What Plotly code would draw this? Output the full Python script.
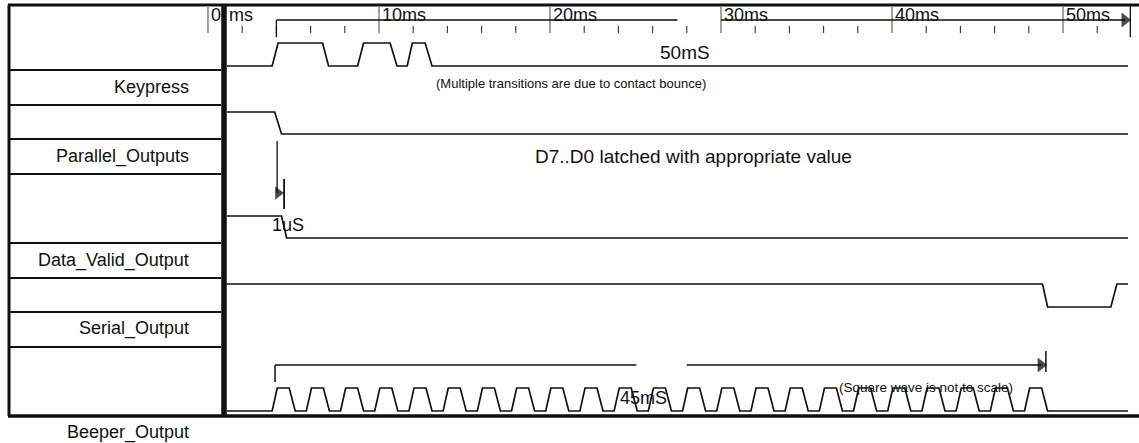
import plotly.graph_objects as go

# ---------------- data (times in ms, logic levels 0/1) ----------------
signal_names = ["Keypress", "Parallel_Outputs", "Data_Valid_Output", "Serial_Output", "Beeper_Output"]

keypress_t = [1.1, 3.75, 4.1, 6.7, 7.05, 8.75, 9.1, 10.65, 11.05, 11.65, 11.95, 12.7, 13.1, 53.8]
keypress_v = [0, 0, 1, 1, 0, 0, 1, 1, 0, 0, 1, 1, 0, 0]

parallel_t = [1.1, 3.9, 4.3, 53.8]
parallel_v = [1, 1, 0, 0]

valid_t = [1.1, 4.3, 4.6, 53.8]
valid_v = [1, 1, 0, 0]

serial_t = [1.1, 48.8, 49.1, 52.8, 53.15, 53.8]
serial_v = [1, 1, 0, 0, 1, 1]

beeper_span_ms = [1.1, 53.8]
beeper_rise_ms = [3.75, 5.75, 7.75, 9.75, 11.75, 13.75, 15.75, 17.75, 19.75, 21.75, 23.75, 25.75,
                  27.75, 29.75, 31.75, 33.75, 35.75, 37.75, 39.75, 41.75, 43.75, 45.75, 47.75]
beeper_pulse_ms = [0.3, 0.7, 0.35]  # rise, high, fall durations

major_ticks_ms = [0, 10, 20, 30, 40, 50]
major_tick_labels = ["0", "10ms", "20ms", "30ms", "40ms", "50ms"]
minor_ticks_ms = [2, 4, 6, 8, 12, 14, 16, 18, 22, 24, 26, 28, 32, 34, 36, 38, 42, 44, 46, 48, 52]

keypress_window_ms = [4.0, 27.45, 30.0, 53.85]   # ruler line with a gap, ends in an arrow
beeper_window_ms = [3.92, 25.05, 28.0, 49.0]     # 45 mS bracket with a gap
setup_marker_ms = [4.1, 4.45]                   # 1 uS marker

# ---------------- layout geometry (pixels) ----------------
W, H = 1139, 443
PX_PER_MS = 17.1
X0_PX = 208
FONT = "Liberation Sans, Arial, sans-serif"
INK = "#111111"

row_levels = {  # (high y, low y)
    "Keypress": (43, 66),
    "Parallel_Outputs": (112, 134),
    "Data_Valid_Output": (216, 238),
    "Serial_Output": (284, 307),
    "Beeper_Output": (388, 411),
}
label_y = [87, 156, 260, 328, 432]
row_lines_y = [70, 105, 139, 174, 243, 278, 312, 347]
TOP_Y, BOT_Y = 5, 416
TABLE_L, TABLE_R = 8, 221


def ms_per_px(px):
    return px / PX_PER_MS


def to_y(name, levels):
    hi, lo = row_levels[name]
    return [lo - v * (lo - hi) for v in levels]


def beeper_wave():
    t = [beeper_span_ms[0]]
    v = [0]
    r, h, f = beeper_pulse_ms
    for s in beeper_rise_ms:
        t += [s, s + r, s + r + h, s + r + h + f]
        v += [0, 1, 1, 0]
    t.append(beeper_span_ms[1])
    v.append(0)
    return t, v


fig = go.Figure()

line_style = dict(color=INK, width=1.7)

waves = [
    ("Keypress", keypress_t, keypress_v),
    ("Parallel_Outputs", parallel_t, parallel_v),
    ("Data_Valid_Output", valid_t, valid_v),
    ("Serial_Output", serial_t, serial_v),
]
bt, bv = beeper_wave()
waves.append(("Beeper_Output", bt, bv))

for name, t, v in waves:
    fig.add_trace(go.Scatter(x=t, y=to_y(name, v), mode="lines", line=line_style,
                             hoverinfo="skip", showlegend=False))


# ---------------- ruler ----------------
def seg_trace(xs, y0s, y1s, width, color=INK):
    X, Y = [], []
    for x, a, b in zip(xs, y0s, y1s):
        X += [x, x, None]
        Y += [a, b, None]
    return go.Scatter(x=X, y=Y, mode="lines", line=dict(color=color, width=width),
                      hoverinfo="skip", showlegend=False)


n_major = len(major_ticks_ms)
fig.add_trace(seg_trace(major_ticks_ms, [7] * n_major, [33] * n_major, 1.1, "#555555"))
n_minor = len(minor_ticks_ms)
fig.add_trace(seg_trace(minor_ticks_ms, [26] * n_minor, [33] * n_minor, 1.1, "#333333"))
# bracket start tick and end bar
fig.add_trace(seg_trace([keypress_window_ms[0]], [20], [37], 1.3))
fig.add_trace(seg_trace([keypress_window_ms[3] + ms_per_px(1.5)], [5], [37], 1.3))

k0, k1, k2, k3 = keypress_window_ms
fig.add_trace(go.Scatter(x=[k0, k1, None, k2, k3 - ms_per_px(4)], y=[20, 20, None, 20, 20],
                         mode="lines", line=dict(color=INK, width=1.5),
                         hoverinfo="skip", showlegend=False))

# ---------------- 45 mS bracket ----------------
b0, b1, b2, b3 = beeper_window_ms
fig.add_trace(go.Scatter(x=[b0, b1, None, b2, b3 - ms_per_px(5)], y=[365, 365, None, 365, 365],
                         mode="lines", line=dict(color=INK, width=1.5),
                         hoverinfo="skip", showlegend=False))
fig.add_trace(seg_trace([b0], [365], [382], 1.5))
fig.add_trace(seg_trace([b3], [351], [372], 1.5))

# ---------------- 1 uS marker ----------------
s0, s1 = setup_marker_ms
fig.add_trace(seg_trace([s0 - ms_per_px(1)], [141], [193], 1.3))
fig.add_trace(seg_trace([s1], [179], [209], 1.8))

# arrow heads
fig.add_trace(go.Scatter(
    x=[k3 - ms_per_px(4), b3 - ms_per_px(5), s0],
    y=[20, 365, 193],
    mode="markers",
    marker=dict(symbol="triangle-right", size=[12, 12, 11], color="#000000",
                line=dict(width=0.5, color="#000000")),
    hoverinfo="skip", showlegend=False))


# ---------------- table / frame shapes ----------------
def hline(x0, x1, y, w):
    fig.add_shape(type="line", xref="paper", yref="y", x0=x0 / W, x1=x1 / W, y0=y, y1=y,
                  line=dict(color=INK, width=w), layer="above")


def vline(x, y0, y1, w):
    fig.add_shape(type="line", xref="paper", yref="y", x0=x / W, x1=x / W, y0=y0, y1=y1,
                  line=dict(color=INK, width=w), layer="above")


hline(TABLE_L, W, TOP_Y, 3)
hline(TABLE_L, W, BOT_Y, 3.5)
vline(TABLE_L + 1, TOP_Y, BOT_Y, 3)
vline(224, TOP_Y, BOT_Y, 5.5)
for y in row_lines_y:
    hline(TABLE_L, TABLE_R, y, 1.8)

# ---------------- text ----------------
ann = []
for name, y in zip(signal_names, label_y):
    ann.append(dict(text=name, xref="paper", yref="y", x=191 / W, y=y, xanchor="right",
                    yanchor="middle", showarrow=False, font=dict(family=FONT, size=18, color=INK)))

for t, lab in zip(major_ticks_ms, major_tick_labels):
    ann.append(dict(text=lab, xref="x", yref="y", x=t + ms_per_px(1), y=15, xanchor="left",
                    yanchor="middle", showarrow=False, font=dict(family=FONT, size=18, color=INK)))
ann.append(dict(text="ms", xref="x", yref="y", x=ms_per_px(18.5), y=15, xanchor="left",
                yanchor="middle", showarrow=False, font=dict(family=FONT, size=18, color=INK)))

centered = [
    dict(text="50mS", x=27.9, y=52, size=19),
    dict(text="(Multiple transitions are due to contact bounce)", x=21.2, y=83, size=13),
    dict(text="D7..D0 latched with appropriate value", x=28.4, y=156, size=19),
    dict(text="45mS", x=25.45, y=398, size=18),
    dict(text="(Square wave is not to scale)", x=42.0, y=387, size=13.5),
]
for a in centered:
    sz = a.pop("size")
    a.update(xref="x", yref="y", xanchor="center", yanchor="middle", showarrow=False,
             font=dict(family=FONT, size=sz, color=INK))
    ann.append(a)
ann.append(dict(text="1uS", xref="x", yref="y", x=s0 - ms_per_px(8), y=225, xanchor="left",
                yanchor="middle", showarrow=False, font=dict(family=FONT, size=18, color=INK)))

fig.update_layout(
    width=W, height=H,
    margin=dict(l=0, r=0, t=0, b=0),
    paper_bgcolor="white", plot_bgcolor="white",
    xaxis=dict(range=[-X0_PX / PX_PER_MS, (W - X0_PX) / PX_PER_MS], visible=False, fixedrange=True),
    yaxis=dict(range=[H, 0], visible=False, fixedrange=True),
    annotations=ann,
    showlegend=False,
)

fig.write_html("out.html",
               config={"displayModeBar": False},
               post_script="document.body.style.margin='0';document.body.style.padding='0';"
                           "document.body.style.overflow='hidden';")
